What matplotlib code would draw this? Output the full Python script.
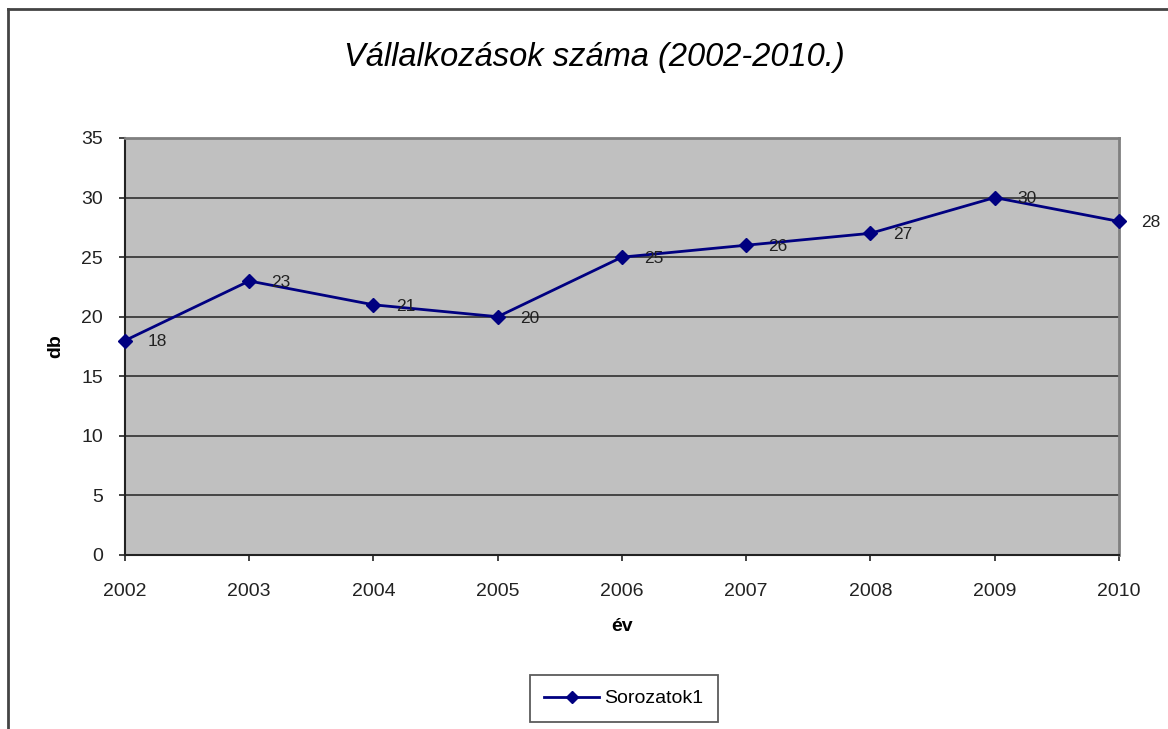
import matplotlib
matplotlib.use("Agg")
import matplotlib.pyplot as plt
from matplotlib.lines import Line2D

# data
years = [2002, 2003, 2004, 2005, 2006, 2007, 2008, 2009, 2010]
counts = [18, 23, 21, 20, 25, 26, 27, 30, 28]
y_ticks = [0, 5, 10, 15, 20, 25, 30, 35]

plt.rcParams["font.family"] = ["Liberation Sans", "DejaVu Sans"]

fig = plt.figure(figsize=(11.68, 7.29), dpi=100)
ax = fig.add_axes([0.107, 0.2387, 0.851, 0.572])
ax.set_facecolor("#c0c0c0")

ax.plot(years, counts, color="#000080", linewidth=2, marker="D",
        markersize=7, label="Sorozatok1", zorder=3, clip_on=False)

for x, y in zip(years, counts):
    ax.annotate(str(y), (x, y), xytext=(16, -1), textcoords="offset points",
                ha="left", va="center", fontsize=12.5, color="#222222",
                annotation_clip=False)

ax.set_xlim(years[0], years[-1])
ax.set_ylim(0, 35)
ax.set_xticks(years)
ax.set_yticks(y_ticks)
ax.tick_params(axis="both", labelsize=14, colors="#222222", length=4,
               direction="out", width=1.2)
ax.tick_params(axis="x", pad=16)
ax.tick_params(axis="y", pad=12)
ax.yaxis.grid(True, color="#3a3a3a", linewidth=1.3)
ax.set_axisbelow(True)

for side in ("left", "bottom"):
    ax.spines[side].set_color("#222222")
    ax.spines[side].set_linewidth(1.5)
for side in ("top", "right"):
    ax.spines[side].set_color("#808080")
    ax.spines[side].set_linewidth(2)

ax.set_xlabel("év", fontsize=14, fontweight="bold", labelpad=13)
ax.set_ylabel("db", fontsize=14, fontweight="bold", labelpad=12)

fig.text(0.509, 0.921, "Vállalkozások száma (2002-2010.)", ha="center",
         va="center", fontsize=23.5, style="italic")

leg = fig.legend(handles=[Line2D([], [], color="#000080", linewidth=2,
                                 marker="D", markersize=6)],
                 labels=["Sorozatok1"], loc="center",
                 bbox_to_anchor=(0.534, 0.0418), fontsize=14, frameon=True,
                 fancybox=False, handlelength=2.8, handletextpad=0.25,
                 borderpad=0.75, borderaxespad=0)
leg.get_frame().set_edgecolor("#333333")
leg.get_frame().set_linewidth(1.3)

# outer chart border (only top and left are inside the picture)
fig.add_artist(Line2D([8 / 1168, 1.0], [1 - 9 / 729, 1 - 9 / 729],
                      color="#444444", linewidth=2, transform=fig.transFigure))
fig.add_artist(Line2D([8 / 1168, 8 / 1168], [0.0, 1 - 9 / 729],
                      color="#444444", linewidth=2, transform=fig.transFigure))

fig.savefig("out.png", dpi=100)
